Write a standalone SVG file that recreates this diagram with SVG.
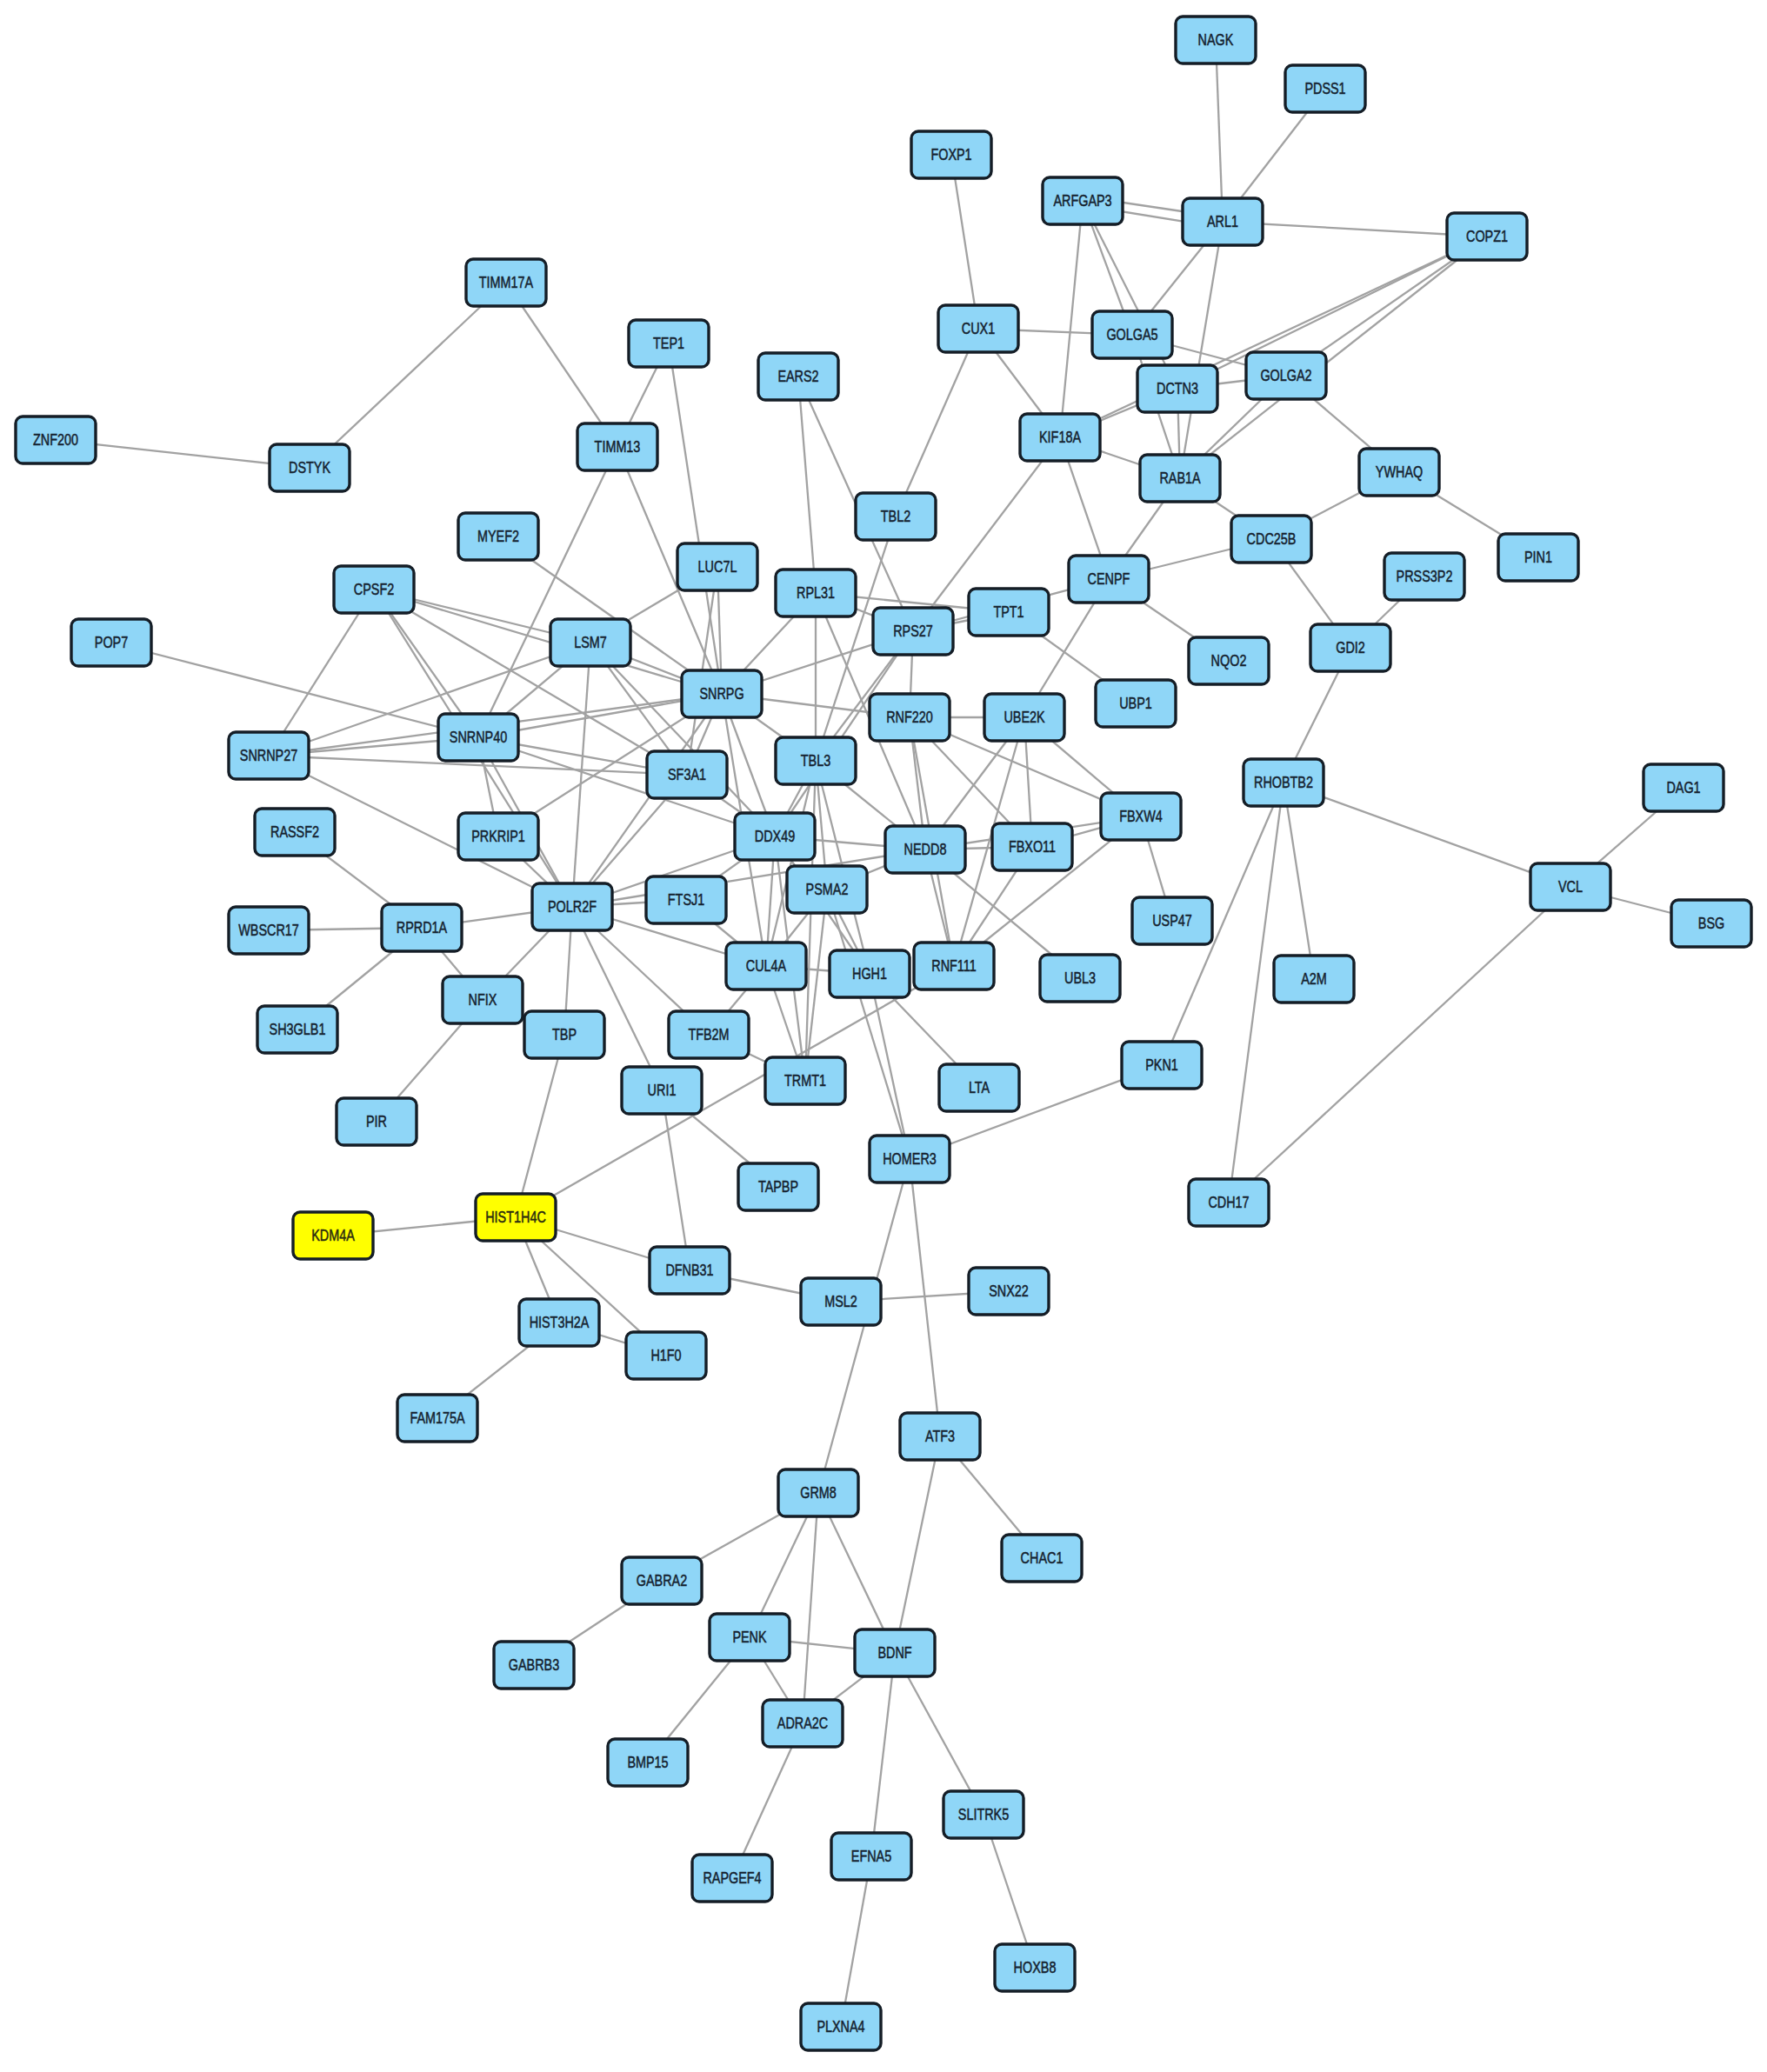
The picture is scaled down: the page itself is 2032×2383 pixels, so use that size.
<svg xmlns="http://www.w3.org/2000/svg" width="2032" height="2383" viewBox="0 0 2032 2383">
<style>
.e line{stroke:#a2a2a2;stroke-width:2.3}
.n rect{fill:#8fd6f7;stroke:#141d26;stroke-width:3.4}
.y rect{fill:#ffff00}
.n text{font-family:"Liberation Sans",Arial,sans-serif;font-size:18px;font-weight:normal;fill:#15222f;stroke:#15222f;stroke-width:0.5;text-anchor:middle}
.y text{fill:#2a2a10;stroke:#2a2a10}
</style>
<rect width="2032" height="2383" fill="#ffffff"/>
<g id="edges" class="e">
<line x1="1398" y1="46" x2="1406" y2="255"/>
<line x1="1524" y1="102" x2="1406" y2="255"/>
<line x1="1094" y1="178" x2="1125" y2="378"/>
<line x1="1245" y1="226" x2="1406" y2="250"/>
<line x1="1245" y1="236" x2="1406" y2="262"/>
<line x1="1406" y1="255" x2="1710" y2="272"/>
<line x1="1245" y1="231" x2="1302" y2="385"/>
<line x1="1245" y1="231" x2="1354" y2="447"/>
<line x1="1245" y1="231" x2="1219" y2="503"/>
<line x1="1406" y1="255" x2="1302" y2="385"/>
<line x1="1406" y1="255" x2="1357" y2="550"/>
<line x1="1125" y1="378" x2="1302" y2="385"/>
<line x1="1125" y1="378" x2="1219" y2="503"/>
<line x1="1125" y1="378" x2="1030" y2="594"/>
<line x1="1302" y1="385" x2="1479" y2="432"/>
<line x1="1302" y1="385" x2="1357" y2="550"/>
<line x1="1710" y1="272" x2="1354" y2="447"/>
<line x1="1710" y1="272" x2="1219" y2="503"/>
<line x1="1710" y1="272" x2="1479" y2="432"/>
<line x1="1710" y1="272" x2="1357" y2="550"/>
<line x1="1354" y1="447" x2="1479" y2="432"/>
<line x1="1354" y1="447" x2="1219" y2="503"/>
<line x1="1354" y1="447" x2="1357" y2="550"/>
<line x1="1479" y1="432" x2="1357" y2="550"/>
<line x1="1479" y1="432" x2="1609" y2="543"/>
<line x1="1219" y1="503" x2="1357" y2="550"/>
<line x1="1219" y1="503" x2="1275" y2="666"/>
<line x1="1219" y1="503" x2="1050" y2="726"/>
<line x1="1357" y1="550" x2="1275" y2="666"/>
<line x1="1357" y1="550" x2="1462" y2="620"/>
<line x1="1609" y1="543" x2="1462" y2="620"/>
<line x1="1609" y1="543" x2="1769" y2="641"/>
<line x1="1462" y1="620" x2="1275" y2="666"/>
<line x1="1462" y1="620" x2="1553" y2="745"/>
<line x1="1638" y1="663" x2="1553" y2="745"/>
<line x1="1553" y1="745" x2="1476" y2="900"/>
<line x1="1275" y1="666" x2="1413" y2="760"/>
<line x1="1275" y1="666" x2="1178" y2="825"/>
<line x1="1050" y1="726" x2="1275" y2="666"/>
<line x1="1050" y1="726" x2="1160" y2="704"/>
<line x1="938" y1="682" x2="1160" y2="704"/>
<line x1="1160" y1="704" x2="1306" y2="809"/>
<line x1="1476" y1="900" x2="1806" y2="1020"/>
<line x1="1476" y1="900" x2="1336" y2="1225"/>
<line x1="1476" y1="900" x2="1413" y2="1383"/>
<line x1="1476" y1="900" x2="1511" y2="1126"/>
<line x1="1936" y1="906" x2="1806" y2="1020"/>
<line x1="1806" y1="1020" x2="1968" y2="1062"/>
<line x1="1806" y1="1020" x2="1413" y2="1383"/>
<line x1="1336" y1="1225" x2="1046" y2="1333"/>
<line x1="582" y1="325" x2="356" y2="538"/>
<line x1="64" y1="506" x2="356" y2="538"/>
<line x1="582" y1="325" x2="710" y2="514"/>
<line x1="769" y1="395" x2="710" y2="514"/>
<line x1="769" y1="395" x2="830" y2="798"/>
<line x1="710" y1="514" x2="830" y2="798"/>
<line x1="710" y1="514" x2="550" y2="848"/>
<line x1="918" y1="433" x2="938" y2="682"/>
<line x1="918" y1="433" x2="1050" y2="726"/>
<line x1="1030" y1="594" x2="938" y2="875"/>
<line x1="938" y1="682" x2="1050" y2="726"/>
<line x1="938" y1="682" x2="830" y2="798"/>
<line x1="938" y1="682" x2="938" y2="875"/>
<line x1="938" y1="682" x2="1064" y2="977"/>
<line x1="573" y1="617" x2="830" y2="798"/>
<line x1="825" y1="652" x2="679" y2="739"/>
<line x1="825" y1="652" x2="830" y2="798"/>
<line x1="825" y1="652" x2="790" y2="891"/>
<line x1="430" y1="678" x2="679" y2="739"/>
<line x1="430" y1="678" x2="830" y2="798"/>
<line x1="430" y1="678" x2="790" y2="891"/>
<line x1="430" y1="678" x2="309" y2="869"/>
<line x1="430" y1="678" x2="550" y2="848"/>
<line x1="430" y1="678" x2="658" y2="1043"/>
<line x1="128" y1="739" x2="550" y2="848"/>
<line x1="679" y1="739" x2="830" y2="798"/>
<line x1="679" y1="739" x2="550" y2="848"/>
<line x1="679" y1="739" x2="309" y2="869"/>
<line x1="679" y1="739" x2="790" y2="891"/>
<line x1="679" y1="739" x2="891" y2="962"/>
<line x1="679" y1="739" x2="658" y2="1043"/>
<line x1="309" y1="869" x2="550" y2="848"/>
<line x1="309" y1="869" x2="830" y2="798"/>
<line x1="309" y1="869" x2="790" y2="891"/>
<line x1="309" y1="869" x2="658" y2="1043"/>
<line x1="550" y1="848" x2="830" y2="798"/>
<line x1="550" y1="848" x2="790" y2="891"/>
<line x1="550" y1="848" x2="891" y2="962"/>
<line x1="550" y1="848" x2="573" y2="962"/>
<line x1="550" y1="848" x2="658" y2="1043"/>
<line x1="573" y1="962" x2="658" y2="1043"/>
<line x1="830" y1="798" x2="573" y2="962"/>
<line x1="830" y1="798" x2="658" y2="1043"/>
<line x1="830" y1="798" x2="790" y2="891"/>
<line x1="830" y1="798" x2="891" y2="962"/>
<line x1="830" y1="798" x2="881" y2="1111"/>
<line x1="830" y1="798" x2="938" y2="875"/>
<line x1="830" y1="798" x2="1050" y2="726"/>
<line x1="830" y1="798" x2="1046" y2="825"/>
<line x1="790" y1="891" x2="891" y2="962"/>
<line x1="790" y1="891" x2="658" y2="1043"/>
<line x1="1050" y1="726" x2="1046" y2="825"/>
<line x1="1050" y1="726" x2="938" y2="875"/>
<line x1="1050" y1="726" x2="891" y2="962"/>
<line x1="1046" y1="825" x2="1178" y2="825"/>
<line x1="1046" y1="825" x2="1064" y2="977"/>
<line x1="1046" y1="825" x2="1097" y2="1111"/>
<line x1="1046" y1="825" x2="1187" y2="974"/>
<line x1="1046" y1="825" x2="1312" y2="939"/>
<line x1="1178" y1="825" x2="1064" y2="977"/>
<line x1="1178" y1="825" x2="1097" y2="1111"/>
<line x1="1178" y1="825" x2="1187" y2="974"/>
<line x1="1178" y1="825" x2="1312" y2="939"/>
<line x1="938" y1="875" x2="1064" y2="977"/>
<line x1="938" y1="875" x2="891" y2="962"/>
<line x1="938" y1="875" x2="881" y2="1111"/>
<line x1="938" y1="875" x2="951" y2="1023"/>
<line x1="938" y1="875" x2="1000" y2="1120"/>
<line x1="938" y1="875" x2="926" y2="1243"/>
<line x1="1064" y1="977" x2="1187" y2="974"/>
<line x1="1064" y1="977" x2="1312" y2="939"/>
<line x1="1187" y1="974" x2="1312" y2="939"/>
<line x1="1312" y1="939" x2="1097" y2="1111"/>
<line x1="1312" y1="939" x2="1348" y2="1059"/>
<line x1="1064" y1="977" x2="1242" y2="1125"/>
<line x1="1187" y1="974" x2="1097" y2="1111"/>
<line x1="1064" y1="977" x2="1097" y2="1111"/>
<line x1="1064" y1="977" x2="951" y2="1023"/>
<line x1="891" y1="962" x2="1064" y2="977"/>
<line x1="891" y1="962" x2="789" y2="1035"/>
<line x1="891" y1="962" x2="881" y2="1111"/>
<line x1="891" y1="962" x2="926" y2="1243"/>
<line x1="891" y1="962" x2="1000" y2="1120"/>
<line x1="658" y1="1043" x2="891" y2="962"/>
<line x1="658" y1="1043" x2="789" y2="1035"/>
<line x1="658" y1="1043" x2="1064" y2="977"/>
<line x1="658" y1="1043" x2="881" y2="1111"/>
<line x1="658" y1="1043" x2="815" y2="1190"/>
<line x1="658" y1="1043" x2="761" y2="1254"/>
<line x1="658" y1="1043" x2="649" y2="1190"/>
<line x1="658" y1="1043" x2="555" y2="1150"/>
<line x1="658" y1="1043" x2="485" y2="1067"/>
<line x1="789" y1="1035" x2="881" y2="1111"/>
<line x1="951" y1="1023" x2="881" y2="1111"/>
<line x1="951" y1="1023" x2="1000" y2="1120"/>
<line x1="951" y1="1023" x2="1046" y2="1333"/>
<line x1="951" y1="1023" x2="926" y2="1243"/>
<line x1="881" y1="1111" x2="1000" y2="1120"/>
<line x1="881" y1="1111" x2="926" y2="1243"/>
<line x1="881" y1="1111" x2="815" y2="1190"/>
<line x1="815" y1="1190" x2="926" y2="1243"/>
<line x1="1000" y1="1120" x2="1046" y2="1333"/>
<line x1="1000" y1="1120" x2="1126" y2="1251"/>
<line x1="593" y1="1400" x2="1097" y2="1111"/>
<line x1="761" y1="1254" x2="895" y2="1365"/>
<line x1="761" y1="1254" x2="793" y2="1461"/>
<line x1="485" y1="1067" x2="339" y2="957"/>
<line x1="485" y1="1067" x2="309" y2="1070"/>
<line x1="485" y1="1067" x2="342" y2="1184"/>
<line x1="485" y1="1067" x2="555" y2="1150"/>
<line x1="555" y1="1150" x2="433" y2="1290"/>
<line x1="555" y1="1150" x2="649" y2="1190"/>
<line x1="649" y1="1190" x2="593" y2="1400"/>
<line x1="593" y1="1400" x2="383" y2="1421"/>
<line x1="593" y1="1400" x2="793" y2="1461"/>
<line x1="593" y1="1400" x2="643" y2="1521"/>
<line x1="593" y1="1400" x2="766" y2="1559"/>
<line x1="643" y1="1521" x2="766" y2="1559"/>
<line x1="643" y1="1521" x2="503" y2="1631"/>
<line x1="793" y1="1461" x2="967" y2="1497"/>
<line x1="967" y1="1497" x2="1160" y2="1485"/>
<line x1="1046" y1="1333" x2="941" y2="1717"/>
<line x1="1046" y1="1333" x2="1081" y2="1652"/>
<line x1="1081" y1="1652" x2="1198" y2="1792"/>
<line x1="1081" y1="1652" x2="1029" y2="1901"/>
<line x1="941" y1="1717" x2="761" y2="1818"/>
<line x1="941" y1="1717" x2="862" y2="1883"/>
<line x1="941" y1="1717" x2="923" y2="1982"/>
<line x1="941" y1="1717" x2="1029" y2="1901"/>
<line x1="761" y1="1818" x2="614" y2="1915"/>
<line x1="862" y1="1883" x2="1029" y2="1901"/>
<line x1="862" y1="1883" x2="923" y2="1982"/>
<line x1="862" y1="1883" x2="745" y2="2027"/>
<line x1="1029" y1="1901" x2="923" y2="1982"/>
<line x1="923" y1="1982" x2="842" y2="2160"/>
<line x1="1029" y1="1901" x2="1002" y2="2135"/>
<line x1="1029" y1="1901" x2="1131" y2="2087"/>
<line x1="1002" y1="2135" x2="967" y2="2331"/>
<line x1="1131" y1="2087" x2="1190" y2="2263"/>
</g>
<g id="nodes">
<g id="NAGK" class="n" transform="translate(1398,46)"><rect x="-46" y="-27" width="92" height="54" rx="8"/><text y="6" transform="scale(0.8,1)">NAGK</text></g>
<g id="PDSS1" class="n" transform="translate(1524,102)"><rect x="-46" y="-27" width="92" height="54" rx="8"/><text y="6" transform="scale(0.8,1)">PDSS1</text></g>
<g id="FOXP1" class="n" transform="translate(1094,178)"><rect x="-46" y="-27" width="92" height="54" rx="8"/><text y="6" transform="scale(0.8,1)">FOXP1</text></g>
<g id="ARFGAP3" class="n" transform="translate(1245,231)"><rect x="-46" y="-27" width="92" height="54" rx="8"/><text y="6" transform="scale(0.8,1)">ARFGAP3</text></g>
<g id="ARL1" class="n" transform="translate(1406,255)"><rect x="-46" y="-27" width="92" height="54" rx="8"/><text y="6" transform="scale(0.8,1)">ARL1</text></g>
<g id="COPZ1" class="n" transform="translate(1710,272)"><rect x="-46" y="-27" width="92" height="54" rx="8"/><text y="6" transform="scale(0.8,1)">COPZ1</text></g>
<g id="TIMM17A" class="n" transform="translate(582,325)"><rect x="-46" y="-27" width="92" height="54" rx="8"/><text y="6" transform="scale(0.8,1)">TIMM17A</text></g>
<g id="TEP1" class="n" transform="translate(769,395)"><rect x="-46" y="-27" width="92" height="54" rx="8"/><text y="6" transform="scale(0.8,1)">TEP1</text></g>
<g id="CUX1" class="n" transform="translate(1125,378)"><rect x="-46" y="-27" width="92" height="54" rx="8"/><text y="6" transform="scale(0.8,1)">CUX1</text></g>
<g id="GOLGA5" class="n" transform="translate(1302,385)"><rect x="-46" y="-27" width="92" height="54" rx="8"/><text y="6" transform="scale(0.8,1)">GOLGA5</text></g>
<g id="EARS2" class="n" transform="translate(918,433)"><rect x="-46" y="-27" width="92" height="54" rx="8"/><text y="6" transform="scale(0.8,1)">EARS2</text></g>
<g id="DCTN3" class="n" transform="translate(1354,447)"><rect x="-46" y="-27" width="92" height="54" rx="8"/><text y="6" transform="scale(0.8,1)">DCTN3</text></g>
<g id="GOLGA2" class="n" transform="translate(1479,432)"><rect x="-46" y="-27" width="92" height="54" rx="8"/><text y="6" transform="scale(0.8,1)">GOLGA2</text></g>
<g id="ZNF200" class="n" transform="translate(64,506)"><rect x="-46" y="-27" width="92" height="54" rx="8"/><text y="6" transform="scale(0.8,1)">ZNF200</text></g>
<g id="DSTYK" class="n" transform="translate(356,538)"><rect x="-46" y="-27" width="92" height="54" rx="8"/><text y="6" transform="scale(0.8,1)">DSTYK</text></g>
<g id="TIMM13" class="n" transform="translate(710,514)"><rect x="-46" y="-27" width="92" height="54" rx="8"/><text y="6" transform="scale(0.8,1)">TIMM13</text></g>
<g id="KIF18A" class="n" transform="translate(1219,503)"><rect x="-46" y="-27" width="92" height="54" rx="8"/><text y="6" transform="scale(0.8,1)">KIF18A</text></g>
<g id="RAB1A" class="n" transform="translate(1357,550)"><rect x="-46" y="-27" width="92" height="54" rx="8"/><text y="6" transform="scale(0.8,1)">RAB1A</text></g>
<g id="YWHAQ" class="n" transform="translate(1609,543)"><rect x="-46" y="-27" width="92" height="54" rx="8"/><text y="6" transform="scale(0.8,1)">YWHAQ</text></g>
<g id="TBL2" class="n" transform="translate(1030,594)"><rect x="-46" y="-27" width="92" height="54" rx="8"/><text y="6" transform="scale(0.8,1)">TBL2</text></g>
<g id="MYEF2" class="n" transform="translate(573,617)"><rect x="-46" y="-27" width="92" height="54" rx="8"/><text y="6" transform="scale(0.8,1)">MYEF2</text></g>
<g id="CDC25B" class="n" transform="translate(1462,620)"><rect x="-46" y="-27" width="92" height="54" rx="8"/><text y="6" transform="scale(0.8,1)">CDC25B</text></g>
<g id="PIN1" class="n" transform="translate(1769,641)"><rect x="-46" y="-27" width="92" height="54" rx="8"/><text y="6" transform="scale(0.8,1)">PIN1</text></g>
<g id="PRSS3P2" class="n" transform="translate(1638,663)"><rect x="-46" y="-27" width="92" height="54" rx="8"/><text y="6" transform="scale(0.8,1)">PRSS3P2</text></g>
<g id="LUC7L" class="n" transform="translate(825,652)"><rect x="-46" y="-27" width="92" height="54" rx="8"/><text y="6" transform="scale(0.8,1)">LUC7L</text></g>
<g id="CPSF2" class="n" transform="translate(430,678)"><rect x="-46" y="-27" width="92" height="54" rx="8"/><text y="6" transform="scale(0.8,1)">CPSF2</text></g>
<g id="RPL31" class="n" transform="translate(938,682)"><rect x="-46" y="-27" width="92" height="54" rx="8"/><text y="6" transform="scale(0.8,1)">RPL31</text></g>
<g id="TPT1" class="n" transform="translate(1160,704)"><rect x="-46" y="-27" width="92" height="54" rx="8"/><text y="6" transform="scale(0.8,1)">TPT1</text></g>
<g id="CENPF" class="n" transform="translate(1275,666)"><rect x="-46" y="-27" width="92" height="54" rx="8"/><text y="6" transform="scale(0.8,1)">CENPF</text></g>
<g id="POP7" class="n" transform="translate(128,739)"><rect x="-46" y="-27" width="92" height="54" rx="8"/><text y="6" transform="scale(0.8,1)">POP7</text></g>
<g id="LSM7" class="n" transform="translate(679,739)"><rect x="-46" y="-27" width="92" height="54" rx="8"/><text y="6" transform="scale(0.8,1)">LSM7</text></g>
<g id="RPS27" class="n" transform="translate(1050,726)"><rect x="-46" y="-27" width="92" height="54" rx="8"/><text y="6" transform="scale(0.8,1)">RPS27</text></g>
<g id="NQO2" class="n" transform="translate(1413,760)"><rect x="-46" y="-27" width="92" height="54" rx="8"/><text y="6" transform="scale(0.8,1)">NQO2</text></g>
<g id="GDI2" class="n" transform="translate(1553,745)"><rect x="-46" y="-27" width="92" height="54" rx="8"/><text y="6" transform="scale(0.8,1)">GDI2</text></g>
<g id="SNRPG" class="n" transform="translate(830,798)"><rect x="-46" y="-27" width="92" height="54" rx="8"/><text y="6" transform="scale(0.8,1)">SNRPG</text></g>
<g id="UBP1" class="n" transform="translate(1306,809)"><rect x="-46" y="-27" width="92" height="54" rx="8"/><text y="6" transform="scale(0.8,1)">UBP1</text></g>
<g id="RNF220" class="n" transform="translate(1046,825)"><rect x="-46" y="-27" width="92" height="54" rx="8"/><text y="6" transform="scale(0.8,1)">RNF220</text></g>
<g id="UBE2K" class="n" transform="translate(1178,825)"><rect x="-46" y="-27" width="92" height="54" rx="8"/><text y="6" transform="scale(0.8,1)">UBE2K</text></g>
<g id="SNRNP27" class="n" transform="translate(309,869)"><rect x="-46" y="-27" width="92" height="54" rx="8"/><text y="6" transform="scale(0.8,1)">SNRNP27</text></g>
<g id="SNRNP40" class="n" transform="translate(550,848)"><rect x="-46" y="-27" width="92" height="54" rx="8"/><text y="6" transform="scale(0.8,1)">SNRNP40</text></g>
<g id="SF3A1" class="n" transform="translate(790,891)"><rect x="-46" y="-27" width="92" height="54" rx="8"/><text y="6" transform="scale(0.8,1)">SF3A1</text></g>
<g id="TBL3" class="n" transform="translate(938,875)"><rect x="-46" y="-27" width="92" height="54" rx="8"/><text y="6" transform="scale(0.8,1)">TBL3</text></g>
<g id="RHOBTB2" class="n" transform="translate(1476,900)"><rect x="-46" y="-27" width="92" height="54" rx="8"/><text y="6" transform="scale(0.8,1)">RHOBTB2</text></g>
<g id="DAG1" class="n" transform="translate(1936,906)"><rect x="-46" y="-27" width="92" height="54" rx="8"/><text y="6" transform="scale(0.8,1)">DAG1</text></g>
<g id="FBXW4" class="n" transform="translate(1312,939)"><rect x="-46" y="-27" width="92" height="54" rx="8"/><text y="6" transform="scale(0.8,1)">FBXW4</text></g>
<g id="RASSF2" class="n" transform="translate(339,957)"><rect x="-46" y="-27" width="92" height="54" rx="8"/><text y="6" transform="scale(0.8,1)">RASSF2</text></g>
<g id="PRKRIP1" class="n" transform="translate(573,962)"><rect x="-46" y="-27" width="92" height="54" rx="8"/><text y="6" transform="scale(0.8,1)">PRKRIP1</text></g>
<g id="DDX49" class="n" transform="translate(891,962)"><rect x="-46" y="-27" width="92" height="54" rx="8"/><text y="6" transform="scale(0.8,1)">DDX49</text></g>
<g id="NEDD8" class="n" transform="translate(1064,977)"><rect x="-46" y="-27" width="92" height="54" rx="8"/><text y="6" transform="scale(0.8,1)">NEDD8</text></g>
<g id="FBXO11" class="n" transform="translate(1187,974)"><rect x="-46" y="-27" width="92" height="54" rx="8"/><text y="6" transform="scale(0.8,1)">FBXO11</text></g>
<g id="PSMA2" class="n" transform="translate(951,1023)"><rect x="-46" y="-27" width="92" height="54" rx="8"/><text y="6" transform="scale(0.8,1)">PSMA2</text></g>
<g id="VCL" class="n" transform="translate(1806,1020)"><rect x="-46" y="-27" width="92" height="54" rx="8"/><text y="6" transform="scale(0.8,1)">VCL</text></g>
<g id="WBSCR17" class="n" transform="translate(309,1070)"><rect x="-46" y="-27" width="92" height="54" rx="8"/><text y="6" transform="scale(0.8,1)">WBSCR17</text></g>
<g id="RPRD1A" class="n" transform="translate(485,1067)"><rect x="-46" y="-27" width="92" height="54" rx="8"/><text y="6" transform="scale(0.8,1)">RPRD1A</text></g>
<g id="POLR2F" class="n" transform="translate(658,1043)"><rect x="-46" y="-27" width="92" height="54" rx="8"/><text y="6" transform="scale(0.8,1)">POLR2F</text></g>
<g id="FTSJ1" class="n" transform="translate(789,1035)"><rect x="-46" y="-27" width="92" height="54" rx="8"/><text y="6" transform="scale(0.8,1)">FTSJ1</text></g>
<g id="USP47" class="n" transform="translate(1348,1059)"><rect x="-46" y="-27" width="92" height="54" rx="8"/><text y="6" transform="scale(0.8,1)">USP47</text></g>
<g id="BSG" class="n" transform="translate(1968,1062)"><rect x="-46" y="-27" width="92" height="54" rx="8"/><text y="6" transform="scale(0.8,1)">BSG</text></g>
<g id="CUL4A" class="n" transform="translate(881,1111)"><rect x="-46" y="-27" width="92" height="54" rx="8"/><text y="6" transform="scale(0.8,1)">CUL4A</text></g>
<g id="HGH1" class="n" transform="translate(1000,1120)"><rect x="-46" y="-27" width="92" height="54" rx="8"/><text y="6" transform="scale(0.8,1)">HGH1</text></g>
<g id="RNF111" class="n" transform="translate(1097,1111)"><rect x="-46" y="-27" width="92" height="54" rx="8"/><text y="6" transform="scale(0.8,1)">RNF111</text></g>
<g id="UBL3" class="n" transform="translate(1242,1125)"><rect x="-46" y="-27" width="92" height="54" rx="8"/><text y="6" transform="scale(0.8,1)">UBL3</text></g>
<g id="A2M" class="n" transform="translate(1511,1126)"><rect x="-46" y="-27" width="92" height="54" rx="8"/><text y="6" transform="scale(0.8,1)">A2M</text></g>
<g id="NFIX" class="n" transform="translate(555,1150)"><rect x="-46" y="-27" width="92" height="54" rx="8"/><text y="6" transform="scale(0.8,1)">NFIX</text></g>
<g id="SH3GLB1" class="n" transform="translate(342,1184)"><rect x="-46" y="-27" width="92" height="54" rx="8"/><text y="6" transform="scale(0.8,1)">SH3GLB1</text></g>
<g id="TBP" class="n" transform="translate(649,1190)"><rect x="-46" y="-27" width="92" height="54" rx="8"/><text y="6" transform="scale(0.8,1)">TBP</text></g>
<g id="TFB2M" class="n" transform="translate(815,1190)"><rect x="-46" y="-27" width="92" height="54" rx="8"/><text y="6" transform="scale(0.8,1)">TFB2M</text></g>
<g id="TRMT1" class="n" transform="translate(926,1243)"><rect x="-46" y="-27" width="92" height="54" rx="8"/><text y="6" transform="scale(0.8,1)">TRMT1</text></g>
<g id="LTA" class="n" transform="translate(1126,1251)"><rect x="-46" y="-27" width="92" height="54" rx="8"/><text y="6" transform="scale(0.8,1)">LTA</text></g>
<g id="PKN1" class="n" transform="translate(1336,1225)"><rect x="-46" y="-27" width="92" height="54" rx="8"/><text y="6" transform="scale(0.8,1)">PKN1</text></g>
<g id="URI1" class="n" transform="translate(761,1254)"><rect x="-46" y="-27" width="92" height="54" rx="8"/><text y="6" transform="scale(0.8,1)">URI1</text></g>
<g id="PIR" class="n" transform="translate(433,1290)"><rect x="-46" y="-27" width="92" height="54" rx="8"/><text y="6" transform="scale(0.8,1)">PIR</text></g>
<g id="HOMER3" class="n" transform="translate(1046,1333)"><rect x="-46" y="-27" width="92" height="54" rx="8"/><text y="6" transform="scale(0.8,1)">HOMER3</text></g>
<g id="TAPBP" class="n" transform="translate(895,1365)"><rect x="-46" y="-27" width="92" height="54" rx="8"/><text y="6" transform="scale(0.8,1)">TAPBP</text></g>
<g id="CDH17" class="n" transform="translate(1413,1383)"><rect x="-46" y="-27" width="92" height="54" rx="8"/><text y="6" transform="scale(0.8,1)">CDH17</text></g>
<g id="KDM4A" class="n y" transform="translate(383,1421)"><rect x="-46" y="-27" width="92" height="54" rx="8"/><text y="6" transform="scale(0.8,1)">KDM4A</text></g>
<g id="HIST1H4C" class="n y" transform="translate(593,1400)"><rect x="-46" y="-27" width="92" height="54" rx="8"/><text y="6" transform="scale(0.8,1)">HIST1H4C</text></g>
<g id="DFNB31" class="n" transform="translate(793,1461)"><rect x="-46" y="-27" width="92" height="54" rx="8"/><text y="6" transform="scale(0.8,1)">DFNB31</text></g>
<g id="MSL2" class="n" transform="translate(967,1497)"><rect x="-46" y="-27" width="92" height="54" rx="8"/><text y="6" transform="scale(0.8,1)">MSL2</text></g>
<g id="SNX22" class="n" transform="translate(1160,1485)"><rect x="-46" y="-27" width="92" height="54" rx="8"/><text y="6" transform="scale(0.8,1)">SNX22</text></g>
<g id="HIST3H2A" class="n" transform="translate(643,1521)"><rect x="-46" y="-27" width="92" height="54" rx="8"/><text y="6" transform="scale(0.8,1)">HIST3H2A</text></g>
<g id="H1F0" class="n" transform="translate(766,1559)"><rect x="-46" y="-27" width="92" height="54" rx="8"/><text y="6" transform="scale(0.8,1)">H1F0</text></g>
<g id="FAM175A" class="n" transform="translate(503,1631)"><rect x="-46" y="-27" width="92" height="54" rx="8"/><text y="6" transform="scale(0.8,1)">FAM175A</text></g>
<g id="ATF3" class="n" transform="translate(1081,1652)"><rect x="-46" y="-27" width="92" height="54" rx="8"/><text y="6" transform="scale(0.8,1)">ATF3</text></g>
<g id="GRM8" class="n" transform="translate(941,1717)"><rect x="-46" y="-27" width="92" height="54" rx="8"/><text y="6" transform="scale(0.8,1)">GRM8</text></g>
<g id="CHAC1" class="n" transform="translate(1198,1792)"><rect x="-46" y="-27" width="92" height="54" rx="8"/><text y="6" transform="scale(0.8,1)">CHAC1</text></g>
<g id="GABRA2" class="n" transform="translate(761,1818)"><rect x="-46" y="-27" width="92" height="54" rx="8"/><text y="6" transform="scale(0.8,1)">GABRA2</text></g>
<g id="PENK" class="n" transform="translate(862,1883)"><rect x="-46" y="-27" width="92" height="54" rx="8"/><text y="6" transform="scale(0.8,1)">PENK</text></g>
<g id="BDNF" class="n" transform="translate(1029,1901)"><rect x="-46" y="-27" width="92" height="54" rx="8"/><text y="6" transform="scale(0.8,1)">BDNF</text></g>
<g id="GABRB3" class="n" transform="translate(614,1915)"><rect x="-46" y="-27" width="92" height="54" rx="8"/><text y="6" transform="scale(0.8,1)">GABRB3</text></g>
<g id="ADRA2C" class="n" transform="translate(923,1982)"><rect x="-46" y="-27" width="92" height="54" rx="8"/><text y="6" transform="scale(0.8,1)">ADRA2C</text></g>
<g id="BMP15" class="n" transform="translate(745,2027)"><rect x="-46" y="-27" width="92" height="54" rx="8"/><text y="6" transform="scale(0.8,1)">BMP15</text></g>
<g id="SLITRK5" class="n" transform="translate(1131,2087)"><rect x="-46" y="-27" width="92" height="54" rx="8"/><text y="6" transform="scale(0.8,1)">SLITRK5</text></g>
<g id="EFNA5" class="n" transform="translate(1002,2135)"><rect x="-46" y="-27" width="92" height="54" rx="8"/><text y="6" transform="scale(0.8,1)">EFNA5</text></g>
<g id="RAPGEF4" class="n" transform="translate(842,2160)"><rect x="-46" y="-27" width="92" height="54" rx="8"/><text y="6" transform="scale(0.8,1)">RAPGEF4</text></g>
<g id="HOXB8" class="n" transform="translate(1190,2263)"><rect x="-46" y="-27" width="92" height="54" rx="8"/><text y="6" transform="scale(0.8,1)">HOXB8</text></g>
<g id="PLXNA4" class="n" transform="translate(967,2331)"><rect x="-46" y="-27" width="92" height="54" rx="8"/><text y="6" transform="scale(0.8,1)">PLXNA4</text></g>
</g>
</svg>
